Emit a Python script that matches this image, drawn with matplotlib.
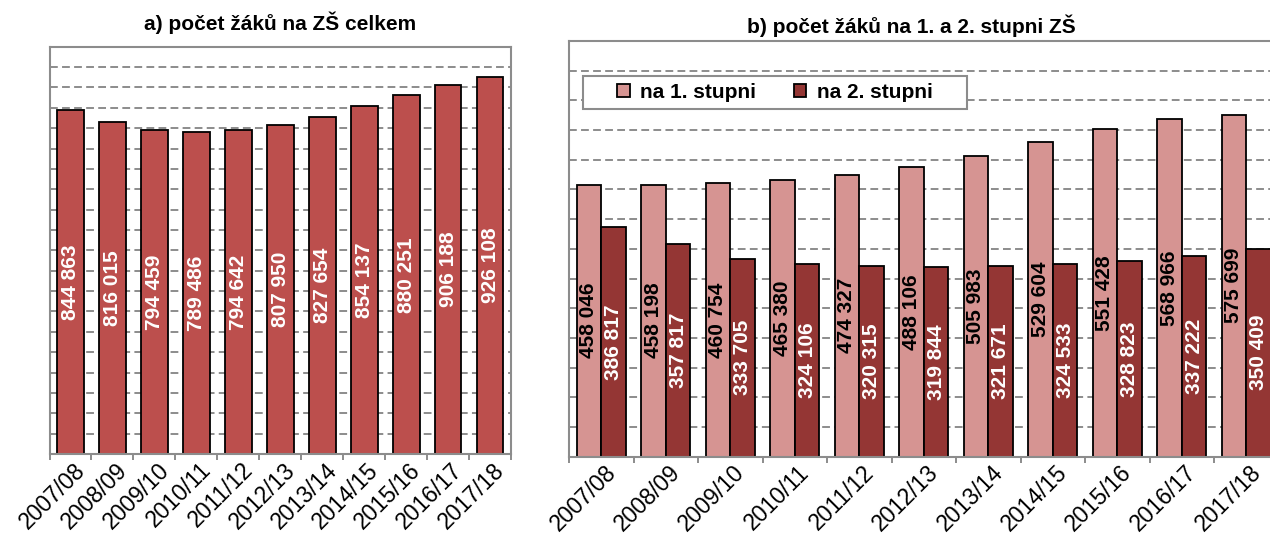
import numpy as np
import matplotlib
matplotlib.use('Agg')
import matplotlib.pyplot as plt
import matplotlib.transforms as mtransforms
from matplotlib.patches import Rectangle

plt.rcParams['font.family'] = ['Liberation Sans', 'DejaVu Sans']

# data
years = ['2007/08', '2008/09', '2009/10', '2010/11', '2011/12', '2012/13',
         '2013/14', '2014/15', '2015/16', '2016/17', '2017/18']
celkem = [844863, 816015, 794459, 789486, 794642, 807950,
          827654, 854137, 880251, 906188, 926108]
stupen1 = [458046, 458198, 460754, 465380, 474327, 488106,
           505983, 529604, 551428, 568966, 575699]
stupen2 = [386817, 357817, 333705, 324106, 320315, 319844,
           321671, 324533, 328823, 337222, 350409]

c_total = '#BC4F4D'
c_s1 = '#D69492'
c_s2 = '#943634'
grey = '#8C8C8C'

W, H = 1270, 538
fig = plt.figure(figsize=(W / 100, H / 100), dpi=100)


def fmt(v):
    return f'{v:,}'.replace(',', ' ')


def style_axes(ax, ymax):
    n = len(years)
    x = np.arange(n)
    ax.set_xlim(-0.5, n - 0.5)
    ax.set_ylim(0, ymax)
    ax.set_yticks(np.arange(0, ymax + 1, 50000))
    ax.set_yticklabels([])
    ax.tick_params(axis='y', length=0)
    ax.yaxis.grid(True, color=grey, linestyle=(0, (4, 2.2)), linewidth=1.4)
    ax.set_axisbelow(True)
    ax.set_xticks(np.arange(-0.5, n), labels=[''] * (n + 1))
    ax.set_xticks(x, labels=years, minor=True)
    ax.tick_params(axis='x', which='major', length=4.5, width=1.4, color=grey,
                   direction='out')
    ax.tick_params(axis='x', which='minor', length=0, labelsize=16.5, pad=9)
    offset = mtransforms.ScaledTranslation(11 / 100, 0, fig.dpi_scale_trans)
    for lbl in ax.get_xticklabels(minor=True):
        lbl.set_rotation(45)
        lbl.set_ha('right')
        lbl.set_va('center')
        lbl.set_rotation_mode('anchor')
        lbl.set_transform(lbl.get_transform() + offset)
    for s in ax.spines.values():
        s.set_color(grey)
        s.set_linewidth(1.5)
    return x


# a) total
ax1 = fig.add_axes([49.5 / W, 1 - 454 / H, 461.5 / W, (454 - 46.7) / H])
x = style_axes(ax1, 1000000)
b = ax1.bar(x, celkem, width=0.64, color=c_total, edgecolor='black', linewidth=1.3)
ax1.bar_label(b, labels=[fmt(v) for v in celkem], label_type='center',
              rotation=90, color='white', fontsize=15, fontweight='bold')
fig.text(280 / W, 1 - 30 / H, 'a) počet žáků na ZŠ celkem', ha='center',
         va='baseline', fontsize=15, fontweight='bold')

# b) 1st and 2nd level
ax2 = fig.add_axes([569 / W, 1 - 456.7 / H, 709.5 / W, (456.7 - 41) / H])
x = style_axes(ax2, 700000)
w = 0.38
b1 = ax2.bar(x - w / 2, stupen1, width=w, color=c_s1, edgecolor='black',
             linewidth=1.3, label='na 1. stupni')
b2 = ax2.bar(x + w / 2, stupen2, width=w, color=c_s2, edgecolor='black',
             linewidth=1.3, label='na 2. stupni')
ax2.bar_label(b1, labels=[fmt(v) for v in stupen1], label_type='center',
              rotation=90, color='black', fontsize=15, fontweight='bold')
ax2.bar_label(b2, labels=[fmt(v) for v in stupen2], label_type='center',
              rotation=90, color='white', fontsize=15, fontweight='bold')
fig.text(911 / W, 1 - 33.3 / H, 'b) počet žáků na 1. a 2. stupni ZŠ', ha='center',
         va='baseline', fontsize=15, fontweight='bold')

# legend box
lx0, ly1 = 583, 76
lx1, ly0 = 967, 109
ax_h = 456.7 - 41
rx = (lx0 - 569) / 709.5
ry = (456.7 - ly0) / ax_h
rw = (lx1 - lx0) / 709.5
rh = (ly0 - ly1) / ax_h
ax2.add_patch(Rectangle((rx, ry), rw, rh, transform=ax2.transAxes,
                        facecolor='white', edgecolor=grey, linewidth=1.5,
                        zorder=4))
ax2.legend(loc='center', bbox_to_anchor=(rx + rw / 2, ry + rh / 2), ncol=2,
           frameon=False, prop={'size': 15, 'weight': 'bold'},
           handlelength=0.6, handleheight=0.6, handletextpad=0.5,
           columnspacing=1.8, borderaxespad=0).set_zorder(5)

fig.savefig('out.png', dpi=100)
